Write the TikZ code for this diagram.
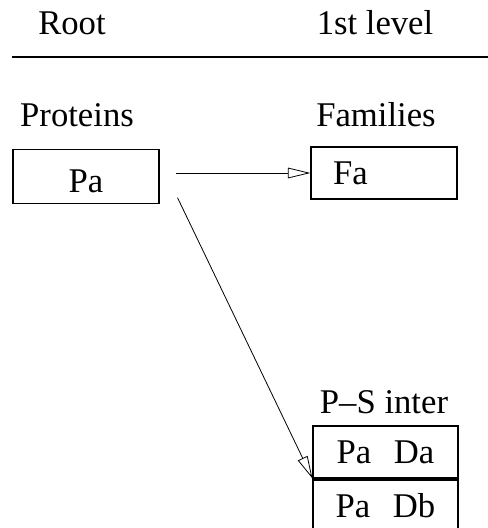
\documentclass[tikz,border=0pt]{standalone}
\usepackage{fontspec}
\setmainfont{Liberation Serif}
\usetikzlibrary{arrows.meta}

\begin{document}
\begin{tikzpicture}[x=0.75pt,y=-0.75pt,font=\fontsize{26}{30}\selectfont,
  box/.style={draw,line width=0.8pt,inner sep=0pt,minimum width=109.5pt,minimum height=39pt},
  arr/.style={-{Triangle[open,length=17pt,width=8pt]},line width=0.6pt}]
\clip (0,0) rectangle (488,528);
% header
\node[anchor=base] (root) at (72,35) {Root};
\node[anchor=base] (lvl) at (375,35) {1st level};
\draw[line width=0.8pt] (12,57) -- (488,57);
% root column
\node[anchor=base] (prot) at (77,126) {Proteins};
\node[box,minimum height=40pt,text height=24pt] (pa) at (86,176.5) {Pa};
% first level
\node[anchor=base] (fam) at (376,127) {Families};
\node[box,text width=76.5pt,align=left] (fa) at (384,173) {Fa};
\node[anchor=base] (ps) at (384,413) {P--S inter};
\node[box,minimum width=108.75pt] (psa) at (385.5,452) {Pa\hspace{0.65em}Da};
\node[box,minimum width=108.75pt] (psb) at (385.5,506) {Pa\hspace{0.65em}Db};
% links
\draw[arr] ([xshift=12pt]pa.east |- fa.west) -- (fa.west);
\draw[arr] ([shift={(18,-6)}]pa.south east) -- (psa.south west);
\end{tikzpicture}
\end{document}
